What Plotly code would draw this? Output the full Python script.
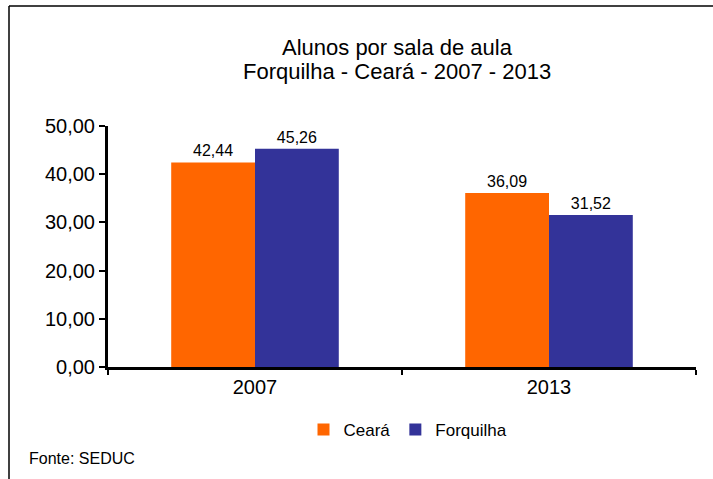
import plotly.graph_objects as go

categories = ["2007", "2013"]
ceara = [42.44, 36.09]
forquilha = [45.26, 31.52]
y_ticks = [0, 10, 20, 30, 40, 50]
title_lines = ["Alunos por sala de aula", "Forquilha - Ceará - 2007 - 2013"]
source_text = "Fonte: SEDUC"

FONT = "Liberation Sans, Arial, sans-serif"
L, R, T, B = 108, 17, 126, 112
PW, PH = 713 - L - R, 479 - T - B


def px_x(x):
    return (x - L) / PW


def px_y(y):
    return (479 - B - y) / PH


fig = go.Figure()
fig.add_trace(go.Bar(x=categories, y=ceara, name="Ceará", marker_color="#FF6600",
                     marker_line_width=0, texttemplate="%{y:.2f}", textposition="outside",
                     textfont=dict(size=16, color="#000000", family=FONT), cliponaxis=False))
fig.add_trace(go.Bar(x=categories, y=forquilha, name="Forquilha", marker_color="#333399",
                     marker_line_width=0, texttemplate="%{y:.2f}", textposition="outside",
                     textfont=dict(size=16, color="#000000", family=FONT), cliponaxis=False))

annotations = [
    dict(text=title_lines[0], xref="paper", yref="paper", x=px_x(397), y=px_y(47),
         xanchor="center", yanchor="middle", showarrow=False, font=dict(size=22, family=FONT)),
    dict(text=title_lines[1], xref="paper", yref="paper", x=px_x(397), y=px_y(72),
         xanchor="center", yanchor="middle", showarrow=False, font=dict(size=22, family=FONT)),
    dict(text=source_text, xref="paper", yref="paper", x=px_x(27), y=px_y(458),
         xanchor="left", yanchor="middle", showarrow=False, font=dict(size=16, family=FONT)),
]

fig.update_layout(
    width=713, height=479,
    margin=dict(l=L, r=R, t=T, b=B, autoexpand=False),
    paper_bgcolor="white", plot_bgcolor="white",
    separators=",.",
    barmode="group", bargap=0.43, bargroupgap=0,
    font=dict(family=FONT, color="#000000"),
    showlegend=True,
    legend=dict(orientation="h", x=px_x(408), xanchor="center", y=px_y(430), yanchor="middle",
                font=dict(size=17, family=FONT), itemwidth=30, traceorder="normal"),
    annotations=annotations,
    shapes=[
        dict(type="line", xref="paper", yref="paper",
             x0=px_x(9), x1=px_x(9), y0=px_y(6), y1=px_y(490),
             line=dict(color="#000000", width=1.5)),
        dict(type="line", xref="paper", yref="paper",
             x0=px_x(9), x1=px_x(720), y0=px_y(6), y1=px_y(6),
             line=dict(color="#000000", width=1.5)),
    ],
)

fig.update_xaxes(showline=True, linecolor="#000000", linewidth=3, ticks="outside",
                 tickson="boundaries", ticklen=5, tickwidth=2, tickcolor="#000000",
                 tickfont=dict(size=20, family=FONT), showgrid=False, automargin=False)
fig.update_yaxes(range=[0, 50], tickvals=y_ticks, tickformat=".2f", showline=True,
                 linecolor="#000000", linewidth=3, ticks="outside", ticklen=6,
                 tickwidth=2, tickcolor="#000000", tickfont=dict(size=20, family=FONT),
                 showgrid=False, zeroline=False, automargin=False)

fig.write_html("out.html", config={"displayModeBar": False},
               post_script="document.body.style.margin='0';document.body.style.overflow='hidden';")
